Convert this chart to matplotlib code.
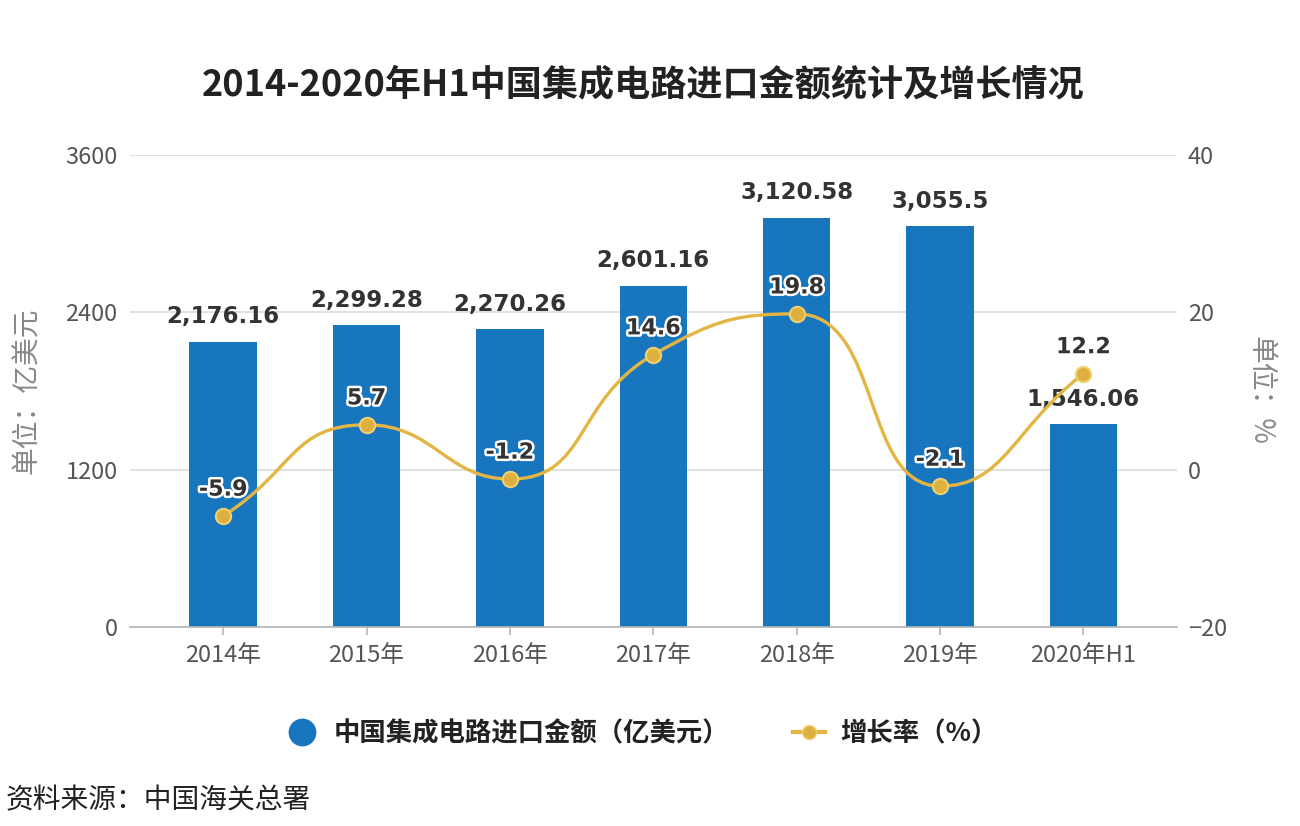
import matplotlib
matplotlib.use("Agg")
import numpy as np
import matplotlib.pyplot as plt
import matplotlib.patheffects as pe
from matplotlib.lines import Line2D
from matplotlib.path import Path
from matplotlib.patches import PathPatch

plt.rcParams["font.family"] = ["Noto Sans CJK SC", "DejaVu Sans"]

# data
categories = ["2014年", "2015年", "2016年", "2017年", "2018年", "2019年", "2020年H1"]
import_value = [2176.16, 2299.28, 2270.26, 2601.16, 3120.58, 3055.5, 1546.06]
value_labels = ["2,176.16", "2,299.28", "2,270.26", "2,601.16", "3,120.58", "3,055.5", "1,546.06"]
growth_rate = [-5.9, 5.7, -1.2, 14.6, 19.8, -2.1, 12.2]

bar_color = "#1876bf"
line_color = "#e3b644"
grid_color = "#dcdcdc"
tick_color = "#555555"


def smooth_path(xs, ys, sx, sy, smooth=0.5):
    # echarts-like bezier smoothing, done in pixel-ish space (sx, sy px per unit)
    p = np.column_stack([np.asarray(xs, float) * sx, np.asarray(ys, float) * sy])
    n = len(p)
    verts = [p[0]]
    codes = [Path.MOVETO]
    cps = []
    for i in range(n):
        prev = p[i - 1] if i > 0 else p[i]
        nxt = p[i + 1] if i < n - 1 else p[i]
        cur = p[i]
        v = nxt - prev
        l0 = np.hypot(*(cur - prev))
        l1 = np.hypot(*(nxt - cur))
        r = l1 / (l0 + l1) if (l0 + l1) > 0 else 0.5
        c1 = cur + v * smooth * r
        c1 = np.minimum(c1, np.maximum(nxt, cur))
        c1 = np.maximum(c1, np.minimum(nxt, cur))
        vv = c1 - cur
        c0 = cur - vv * (l0 / l1) if l1 > 0 else cur - v * smooth * (1 - r)
        c0 = np.minimum(c0, np.maximum(prev, cur))
        c0 = np.maximum(c0, np.minimum(prev, cur))
        vv = cur - c0
        c1 = cur + vv * (l1 / l0) if l0 > 0 else c1
        cps.append((c0, c1))
    for i in range(n - 1):
        verts += [cps[i][1], cps[i + 1][0], p[i + 1]]
        codes += [Path.CURVE4] * 3
    verts = np.array(verts) / np.array([sx, sy])
    return Path(verts, codes)


fig = plt.figure(figsize=(13, 8.26), dpi=100)
ax = fig.add_axes([0.1, 0.241, 0.805, 0.5714])
ax2 = ax.twinx()

x = np.arange(len(categories))
ax.bar(x, import_value, width=0.47, color=bar_color, zorder=2)
ax.set_ylim(0, 3600)
ax.set_yticks([0, 1200, 2400, 3600])
ax.set_xlim(-0.65, 6.65)
ax.set_xticks(x)
ax.set_xticklabels(categories)
ax.yaxis.grid(True, color=grid_color, linewidth=1.2, zorder=0)
ax.set_axisbelow(True)
for s in ["top", "left", "right"]:
    ax.spines[s].set_visible(False)
ax.spines["bottom"].set_color("#b5b5b5")
ax.spines["bottom"].set_linewidth(1.2)
ax.tick_params(axis="y", length=0, pad=9, labelsize=17, labelcolor=tick_color)
ax.tick_params(axis="x", length=6, width=1.2, color="#b5b5b5", pad=6, labelsize=17, labelcolor=tick_color)

for xi, v, lab in zip(x, import_value, value_labels):
    ax.annotate(lab, (xi, v), xytext=(0, 18), textcoords="offset points",
                ha="center", va="center", fontsize=16.5, fontweight="bold",
                family="DejaVu Sans", color="#333333", zorder=5)

# growth rate on the right axis
ax2.set_ylim(-20, 40)
ax2.set_yticks([-20, 0, 20, 40])
for s in ["top", "left", "right", "bottom"]:
    ax2.spines[s].set_visible(False)
ax2.tick_params(axis="y", length=0, pad=8, labelsize=17, labelcolor=tick_color)

ax2.add_patch(PathPatch(smooth_path(x, growth_rate, 143.3, 7.85), facecolor="none",
                        edgecolor=line_color, linewidth=2.4, zorder=3))
ax2.plot(x, growth_rate, linestyle="none", marker="o", markersize=11,
         markerfacecolor="#ddb040", markeredgecolor="#f0d070", markeredgewidth=1.5, zorder=4)

for xi, v in zip(x, growth_rate):
    ax2.annotate(f"{v}", (xi, v), xytext=(0, 19), textcoords="offset points",
                 ha="center", va="center", fontsize=16, fontweight="bold",
                 family="DejaVu Sans", color="#333333", zorder=6,
                 path_effects=[pe.withStroke(linewidth=3.5, foreground="white")])

fig.text(0.495, 0.897, "2014-2020年H1中国集成电路进口金额统计及增长情况",
         ha="center", va="center", fontsize=26, fontweight="bold", color="#222222")
fig.text(0.021, 0.527, "单位：亿美元", rotation=90, ha="center", va="center",
         fontsize=20, color="#888888")
fig.text(0.970, 0.527, "单位：%", rotation=270, ha="center", va="center",
         fontsize=20, color="#888888")

handles = [
    Line2D([], [], linestyle="none", marker="o", markersize=19, color=bar_color),
    Line2D([], [], color=line_color, linewidth=3, marker="o", markersize=10,
           markerfacecolor="#ddb040", markeredgecolor="#f0d070"),
]
fig.legend(handles, ["中国集成电路进口金额（亿美元）", "增长率（%）"],
           loc="center", bbox_to_anchor=(0.494, 0.112), ncol=2, frameon=False,
           prop={"size": 19, "weight": "bold"}, handlelength=1.2,
           columnspacing=2.4, handletextpad=0.6, labelcolor="#222222")

fig.text(0.004, 0.031, "资料来源：中国海关总署", ha="left", va="center",
         fontsize=20, color="#222222")

fig.savefig("out.png", dpi=100, facecolor="white")
